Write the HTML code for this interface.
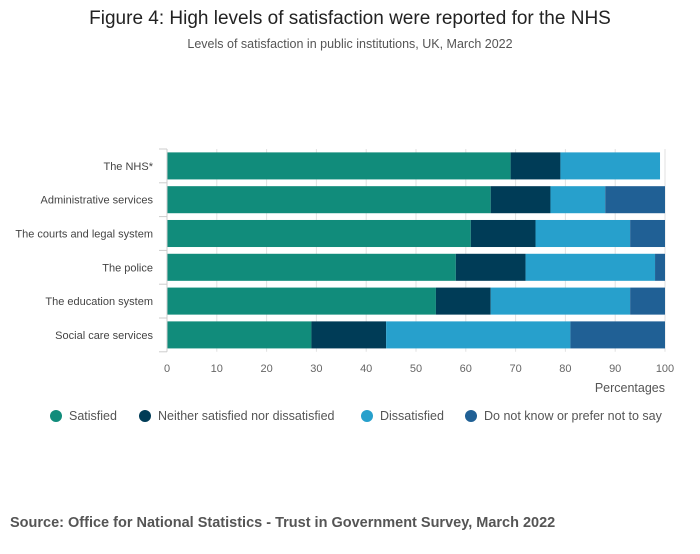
<!DOCTYPE html>
<html><head><meta charset="utf-8"><style>
body{margin:0;background:#fff;font-family:"Liberation Sans",sans-serif;}
svg text{font-family:"Liberation Sans",sans-serif;}
</style></head><body>
<svg id="chart" width="700" height="549">
<text x="350" y="24" text-anchor="middle" font-size="19" fill="#222">Figure 4: High levels of satisfaction were reported for the NHS</text>
<text x="350" y="48" text-anchor="middle" font-size="12.5" fill="#555">Levels of satisfaction in public institutions, UK, March 2022</text>
<g id="grid"></g><g id="bars"></g><g id="axes"></g><g id="legend"></g>
<text x="10" y="527" font-size="14.5" font-weight="bold" fill="#555">Source: Office for National Statistics - Trust in Government Survey, March 2022</text>
</svg>
<script>
const categories=["The NHS*","Administrative services","The courts and legal system","The police","The education system","Social care services"];
const satisfied=[69,65,61,58,54,29];
const neither=[10,12,13,14,11,15];
const dissatisfied=[20,11,19,26,28,37];
const dontKnow=[0,12,7,2,7,19];
const seriesNames=["Satisfied","Neither satisfied nor dissatisfied","Dissatisfied","Do not know or prefer not to say"];
const ticks=[0,10,20,30,40,50,60,70,80,90,100];
const colors=["#118c7b","#003c57","#27a0cc","#206095"];
const NS="http://www.w3.org/2000/svg";
const x0=167,x1=665,yTop=149,band=33.8;
const x=v=>x0+(x1-x0)*v/100;
const y=i=>yTop+band*i;
function mk(t,a,p){const e=document.createElementNS(NS,t);for(const k in a)e.setAttribute(k,a[k]);p.appendChild(e);return e;}
const grid=document.getElementById('grid'),bars=document.getElementById('bars'),axes=document.getElementById('axes'),leg=document.getElementById('legend');
ticks.forEach(t=>{
 if(t>0){const l=mk('line',{x1:x(t),x2:x(t),y1:yTop,y2:yTop+band*6,stroke:'#e2e2e2','stroke-width':1},grid);
 
 }
 const tx=mk('text',{x:x(t),y:372,'text-anchor':'middle','font-size':11,fill:'#666'},axes);tx.textContent=t;
 
 
});
const series=[satisfied,neither,dissatisfied,dontKnow];
categories.forEach((c,i)=>{
 let acc=0;
 series.forEach((s,j)=>{
  const v=s[i];
  if(v>0){const r=mk('rect',{x:x(acc),y:y(i)+band*0.1,width:x(acc+v)-x(acc),height:band*0.8,fill:colors[j]},bars);
  
  }
  acc+=v;
 });
 const t=mk('text',{x:153,y:y(i)+band/2+4,'text-anchor':'end','font-size':11,fill:'#444'},axes);t.textContent=c;
 
 
});
const ax=mk('line',{x1:x0,x2:x0,y1:yTop,y2:yTop+band*6,stroke:'#ccc','stroke-width':1},axes);


for(let i=0;i<=6;i++){const tk=mk('line',{x1:x0-8,x2:x0,y1:y(i),y2:y(i),stroke:'#ccc'},axes);
 
 }
const xt=mk('text',{x:665,y:392,'text-anchor':'end','font-size':12.5,fill:'#555'},axes);xt.textContent='Percentages';


const lx=[56,145,367,471];
seriesNames.forEach((n,j)=>{
 const g=mk('g',{},leg);
 
 
 mk('circle',{cx:lx[j],cy:416,r:6,fill:colors[j]},g);
 const t=mk('text',{x:lx[j]+13,y:420,'font-size':12.5,fill:'#555'},g);t.textContent=n;
});
</script>
</body></html>
